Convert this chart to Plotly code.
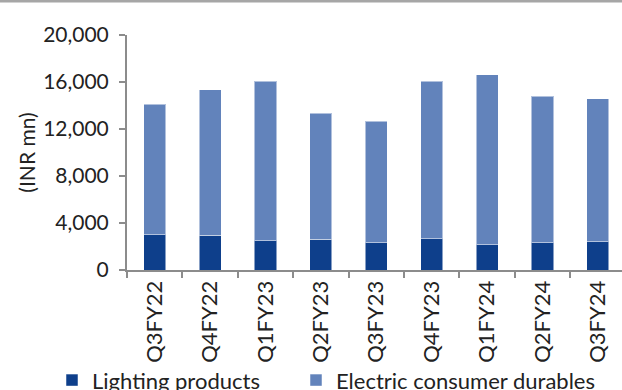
import plotly.graph_objects as go

categories = ["Q3FY22", "Q4FY22", "Q1FY23", "Q2FY23", "Q3FY23", "Q4FY23", "Q1FY24", "Q2FY24", "Q3FY24"]
lighting = [3000, 2950, 2500, 2600, 2330, 2670, 2160, 2330, 2410]
durables = [11100, 12370, 13580, 10740, 10320, 13390, 14440, 12450, 12170]
y_ticks = [0, 4000, 8000, 12000, 16000, 20000]
y_labels = ["0", "4,000", "8,000", "12,000", "16,000", "20,000"]

FONT = "Lato"
TXT = "#222222"
AX = "#8c8c8c"

fig = go.Figure()
fig.add_trace(go.Bar(x=categories, y=lighting, name="Lighting products", legend="legend",
                     marker=dict(color="#0e3f8b", line=dict(color="rgba(255,255,255,0.5)", width=1)),
                     width=0.4))
fig.add_trace(go.Bar(x=categories, y=durables, name="Electric consumer durables", legend="legend2",
                     marker=dict(color="#6283bb", line=dict(color="rgba(255,255,255,0.5)", width=1)),
                     width=0.4))

leg_common = dict(orientation="h", xanchor="left", y=-0.38, yanchor="top",
                  font=dict(family=FONT, size=22, color=TXT), itemwidth=30,
                  bgcolor="rgba(0,0,0,0)")

fig.update_layout(
    barmode="stack",
    width=622, height=390,
    margin=dict(l=127, r=0, t=35, b=120, autoexpand=False),
    paper_bgcolor="white", plot_bgcolor="white",
    font=dict(family=FONT, size=21, color=TXT),
    showlegend=True,
    legend=dict(x=(52 - 127) / 495, **leg_common),
    legend2=dict(x=(296 - 127) / 495, **leg_common),
    xaxis=dict(type="category", range=[-0.5, 8.435], showline=True, linecolor=AX, linewidth=2,
               ticks="outside", tickson="boundaries", ticklen=6, tickcolor=AX, tickwidth=2,
               tickangle=-90, tickfont=dict(family=FONT, size=22, color=TXT),
               showgrid=False, automargin=False),
    yaxis=dict(range=[0, 20000], tickvals=y_ticks, ticktext=y_labels, showline=True,
               linecolor=AX, linewidth=2, ticks="outside", ticklen=6, tickcolor=AX, tickwidth=2,
               tickfont=dict(family=FONT, size=21, color=TXT), showgrid=False, zeroline=False,
               title=dict(text="(INR mn)", font=dict(family=FONT, size=21, color=TXT), standoff=2),
               automargin=False, ticklabelstandoff=6),
    shapes=[dict(type="rect", xref="paper", yref="paper", x0=-0.2566, x1=1.0,
                 y0=(270 - 2.4) / 235, y1=(270 + 0.5) / 235,
                 fillcolor="#a6a6a6", line=dict(width=0), layer="above")],
)

fig.write_html("out.html")
